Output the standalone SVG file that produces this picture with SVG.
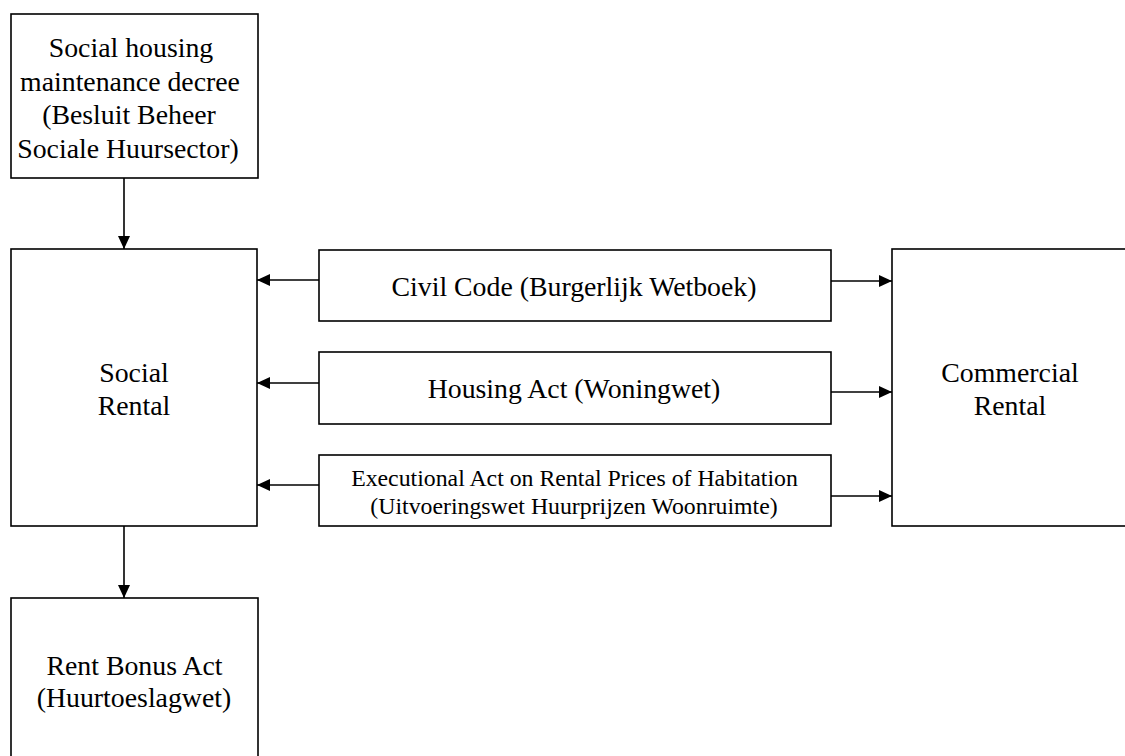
<svg xmlns="http://www.w3.org/2000/svg" width="1125" height="756" viewBox="0 0 1125 756">
<style>
.box{fill:#fff;stroke:#000;stroke-width:1.6}
.t{font-family:"Liberation Serif","Times New Roman",serif;font-size:27.8px;fill:#000;text-anchor:middle}
.s{font-size:23.8px}
.c{stroke:#000;stroke-width:1.6;fill:none}
</style>
<defs>
<marker id="ah" markerWidth="13" markerHeight="12" refX="13" refY="6" orient="auto" markerUnits="userSpaceOnUse">
<path d="M0,0 L13,6 L0,12 Z" fill="#000"/>
</marker>
</defs>
<rect width="1125" height="756" fill="#fff"/>
<g id="decree">
<rect class="box" x="11" y="14" width="247" height="164"/>
<text class="t" x="131" y="57">Social housing</text>
<text class="t" x="130" y="91">maintenance decree</text>
<text class="t" x="129" y="124">(Besluit Beheer</text>
<text class="t" x="128" y="158">Sociale Huursector)</text>
</g>
<g id="social">
<rect class="box" x="11" y="249" width="246" height="277"/>
<text class="t" x="134" y="382">Social</text>
<text class="t" x="134" y="415">Rental</text>
</g>
<g id="civil">
<rect class="box" x="319" y="250" width="512" height="71"/>
<text class="t" x="574" y="296">Civil Code (Burgerlijk Wetboek)</text>
</g>
<g id="housing">
<rect class="box" x="319" y="352" width="512" height="72"/>
<text class="t" x="574" y="398">Housing Act (Woningwet)</text>
</g>
<g id="exec">
<rect class="box" x="319" y="455" width="512" height="71"/>
<text class="t s" x="574.5" y="486">Executional Act on Rental Prices of Habitation</text>
<text class="t s" x="574" y="514">(Uitvoeringswet Huurprijzen Woonruimte)</text>
</g>
<g id="commercial">
<rect class="box" x="892" y="249" width="245" height="277"/>
<text class="t" x="1010" y="382">Commercial</text>
<text class="t" x="1010" y="415">Rental</text>
</g>
<g id="rentbonus">
<rect class="box" x="11" y="598" width="247" height="170"/>
<text class="t" x="134.5" y="675">Rent Bonus Act</text>
<text class="t" x="134" y="707">(Huurtoeslagwet)</text>
</g>
<g id="connectors">
<line class="c" x1="124" y1="178" x2="124" y2="249" marker-end="url(#ah)"/>
<line class="c" x1="124" y1="526" x2="124" y2="598" marker-end="url(#ah)"/>
<line class="c" x1="319" y1="280" x2="257" y2="280" marker-end="url(#ah)"/>
<line class="c" x1="319" y1="383" x2="257" y2="383" marker-end="url(#ah)"/>
<line class="c" x1="319" y1="485" x2="257" y2="485" marker-end="url(#ah)"/>
<line class="c" x1="831" y1="281" x2="892" y2="281" marker-end="url(#ah)"/>
<line class="c" x1="831" y1="392" x2="892" y2="392" marker-end="url(#ah)"/>
<line class="c" x1="831" y1="496" x2="892" y2="496" marker-end="url(#ah)"/>
</g>
</svg>
